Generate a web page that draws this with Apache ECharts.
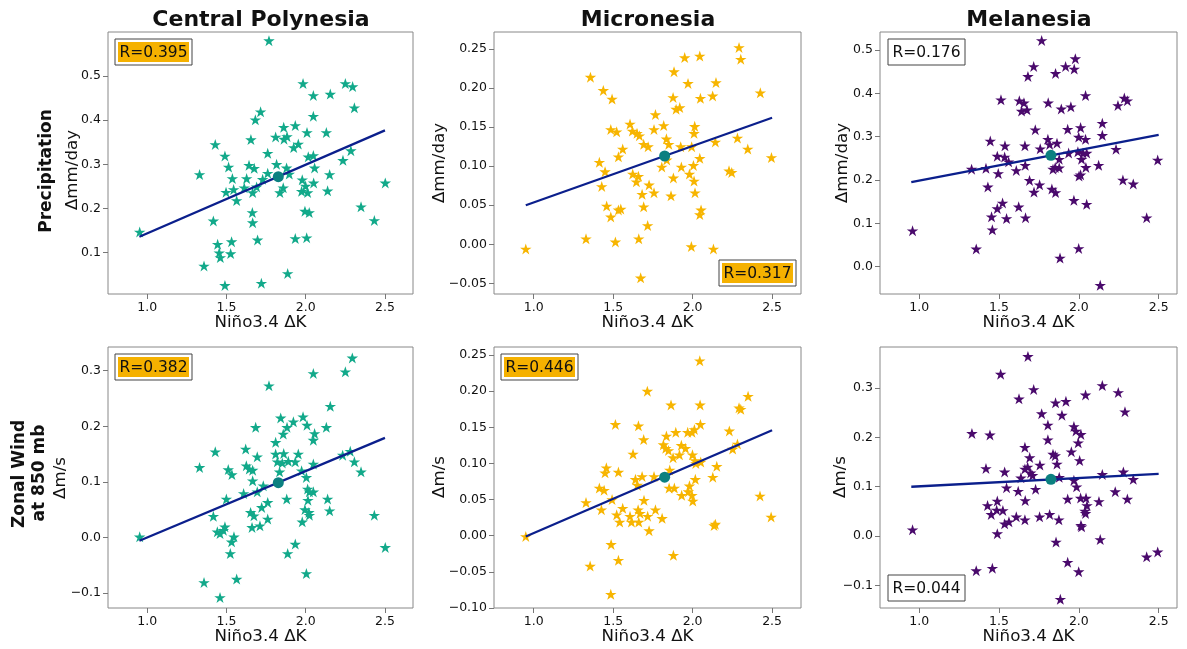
<!DOCTYPE html>
<html>
<head>
<meta charset="utf-8">
<script src="https://cdn.jsdelivr.net/npm/echarts@6/dist/echarts.min.js"></script>
<style>html,body{margin:0;padding:0;background:#fff}#c{width:1187px;height:649px}</style>
</head>
<body>
<div id="c"></div>
<script>
// ---------------- DATA ----------------
const colTitles = ['Central Polynesia', 'Micronesia', 'Melanesia'];
const rowLabels = [['Precipitation'], ['Zonal Wind', 'at 850 mb']];
const yUnits = ['\u0394mm/day', '\u0394m/s'];
const xName = 'Ni\u00f1o3.4 \u0394K';
const xTicks = [1.0, 1.5, 2.0, 2.5];

const cpPrecip = [[1.768,0.580],[1.983,0.483],[2.250,0.483],[2.296,0.476],[2.048,0.456],[2.155,0.459],[2.307,0.428],[1.715,0.419],[1.682,0.401],[2.048,0.409],[1.861,0.384],[1.934,0.388],[2.008,0.372],[2.130,0.372],[1.810,0.362],[1.882,0.363],[1.863,0.357],[1.654,0.356],[1.429,0.345],[1.953,0.346],[1.924,0.338],[1.760,0.325],[1.490,0.319],[2.016,0.317],[2.048,0.320],[2.285,0.331],[2.235,0.309],[1.513,0.294],[1.642,0.298],[1.675,0.291],[1.816,0.300],[1.879,0.292],[2.056,0.292],[1.330,0.277],[1.760,0.280],[1.896,0.278],[2.151,0.277],[1.537,0.268],[1.627,0.268],[1.728,0.266],[1.978,0.265],[1.999,0.251],[2.050,0.258],[1.858,0.247],[1.690,0.249],[1.612,0.247],[1.545,0.243],[1.497,0.237],[1.665,0.236],[1.837,0.236],[1.974,0.239],[2.012,0.236],[2.138,0.240],[1.564,0.218],[2.502,0.258],[2.349,0.204],[1.663,0.191],[1.995,0.194],[2.022,0.191],[1.417,0.172],[1.665,0.168],[2.433,0.173],[0.952,0.147],[1.696,0.129],[1.934,0.132],[2.006,0.134],[1.444,0.119],[1.532,0.125],[1.454,0.100],[1.526,0.098],[1.461,0.089],[1.358,0.070],[1.886,0.053],[1.490,0.026],[1.720,0.031]];

const miPrecip = [[2.292,0.252],[2.303,0.237],[1.950,0.239],[2.045,0.241],[1.883,0.221],[1.357,0.214],[1.971,0.206],[2.147,0.207],[1.438,0.197],[1.493,0.186],[1.877,0.188],[2.049,0.187],[2.126,0.190],[2.426,0.194],[1.896,0.173],[1.919,0.175],[1.766,0.166],[1.606,0.154],[1.818,0.152],[1.757,0.147],[2.013,0.151],[1.485,0.147],[1.522,0.144],[1.621,0.145],[1.650,0.142],[1.665,0.139],[2.009,0.142],[1.835,0.135],[2.282,0.136],[1.692,0.128],[1.720,0.125],[1.850,0.128],[2.143,0.131],[1.925,0.125],[1.994,0.125],[1.560,0.122],[2.347,0.122],[1.533,0.112],[1.837,0.108],[1.806,0.099],[2.045,0.110],[2.496,0.111],[1.413,0.105],[1.449,0.093],[1.929,0.099],[2.005,0.101],[1.623,0.090],[1.659,0.087],[1.646,0.080],[1.879,0.085],[1.980,0.090],[2.009,0.081],[2.229,0.094],[2.246,0.092],[1.428,0.074],[1.726,0.076],[1.757,0.066],[1.682,0.064],[1.864,0.062],[2.015,0.066],[1.692,0.048],[1.459,0.049],[1.533,0.044],[1.548,0.045],[1.485,0.035],[2.053,0.044],[2.045,0.038],[1.717,0.024],[1.329,0.007],[1.661,0.007],[1.514,0.003],[1.992,-0.003],[2.131,-0.006],[0.950,-0.006],[1.673,-0.043]];

const mePrecip = [[1.767,0.522],[1.978,0.480],[1.717,0.462],[1.917,0.462],[1.971,0.456],[1.681,0.439],[1.854,0.446],[2.042,0.395],[1.512,0.385],[1.627,0.383],[1.656,0.378],[1.808,0.378],[2.285,0.389],[2.304,0.383],[2.245,0.372],[1.950,0.369],[1.890,0.364],[1.641,0.359],[1.675,0.362],[2.147,0.331],[1.727,0.316],[1.930,0.317],[2.011,0.321],[2.147,0.303],[1.999,0.299],[2.042,0.294],[1.806,0.294],[1.445,0.290],[1.537,0.279],[1.662,0.279],[1.863,0.285],[1.817,0.282],[1.758,0.272],[2.233,0.271],[1.936,0.262],[1.994,0.265],[2.026,0.262],[2.049,0.262],[1.489,0.255],[1.535,0.253],[1.560,0.242],[2.017,0.248],[1.877,0.248],[2.494,0.246],[1.328,0.225],[1.418,0.227],[1.664,0.234],[1.608,0.222],[1.838,0.225],[1.852,0.229],[1.877,0.228],[2.044,0.229],[2.124,0.234],[1.495,0.215],[2.001,0.209],[2.011,0.212],[1.691,0.199],[1.754,0.189],[2.276,0.200],[2.341,0.191],[1.430,0.184],[1.719,0.172],[1.831,0.179],[1.854,0.171],[1.969,0.153],[2.049,0.144],[1.522,0.147],[1.489,0.134],[1.623,0.138],[1.453,0.115],[1.547,0.111],[1.666,0.113],[2.425,0.113],[1.458,0.085],[0.958,0.083],[1.357,0.041],[1.999,0.042],[1.882,0.020],[2.134,-0.043]];

const cpWind = [[2.294,0.323],[2.048,0.295],[2.250,0.298],[1.768,0.273],[2.155,0.236],[1.842,0.215],[1.983,0.217],[1.922,0.208],[2.008,0.202],[1.882,0.198],[1.684,0.198],[2.130,0.198],[1.858,0.186],[2.056,0.187],[2.048,0.175],[1.810,0.171],[1.429,0.154],[1.621,0.159],[1.810,0.150],[1.861,0.151],[1.953,0.150],[1.694,0.145],[1.821,0.136],[1.852,0.134],[1.890,0.137],[1.934,0.136],[2.233,0.148],[2.281,0.155],[2.307,0.136],[2.048,0.132],[1.330,0.126],[1.511,0.122],[1.534,0.113],[1.625,0.129],[1.644,0.123],[1.665,0.121],[1.835,0.118],[1.974,0.120],[2.349,0.118],[2.004,0.108],[1.665,0.102],[1.732,0.093],[1.608,0.079],[1.694,0.082],[2.012,0.087],[2.048,0.082],[2.023,0.082],[1.499,0.069],[1.880,0.069],[2.014,0.067],[2.138,0.069],[1.760,0.063],[1.722,0.054],[1.652,0.045],[1.673,0.039],[1.995,0.050],[2.020,0.045],[2.023,0.040],[2.151,0.048],[2.433,0.040],[1.417,0.038],[1.760,0.033],[1.711,0.021],[1.661,0.018],[1.978,0.028],[1.490,0.019],[1.480,0.013],[1.442,0.010],[1.459,0.007],[1.547,0.001],[1.532,-0.008],[1.934,-0.012],[1.886,-0.029],[1.524,-0.029],[0.952,0.001],[2.502,-0.018],[2.004,-0.065],[1.564,-0.075],[1.358,-0.081],[1.459,-0.108]];

const miWind = [[2.045,0.242],[1.715,0.200],[2.349,0.193],[1.864,0.181],[2.047,0.181],[2.292,0.177],[2.303,0.175],[1.514,0.154],[1.659,0.152],[2.049,0.154],[1.894,0.143],[1.969,0.143],[1.996,0.143],[2.011,0.147],[2.231,0.145],[1.835,0.138],[1.692,0.133],[1.816,0.126],[1.831,0.121],[1.929,0.125],[1.955,0.121],[1.848,0.118],[1.917,0.112],[2.282,0.127],[2.252,0.120],[1.625,0.113],[1.877,0.108],[1.999,0.112],[2.015,0.104],[2.051,0.102],[2.020,0.100],[2.152,0.096],[1.457,0.094],[1.449,0.087],[1.533,0.088],[1.856,0.091],[1.640,0.078],[1.682,0.082],[1.757,0.082],[2.127,0.081],[2.017,0.078],[1.652,0.070],[1.852,0.066],[1.885,0.066],[1.980,0.069],[1.973,0.061],[1.931,0.056],[1.996,0.056],[2.001,0.048],[1.413,0.066],[1.443,0.063],[1.493,0.050],[1.329,0.046],[1.694,0.049],[2.424,0.055],[1.426,0.036],[1.560,0.038],[1.657,0.036],[1.766,0.036],[1.522,0.029],[1.606,0.027],[1.669,0.031],[1.717,0.027],[1.808,0.024],[1.541,0.019],[1.615,0.019],[1.661,0.019],[2.494,0.026],[2.135,0.014],[2.143,0.016],[1.726,0.007],[0.950,-0.001],[1.487,-0.012],[1.879,-0.027],[1.533,-0.034],[1.355,-0.042],[1.485,-0.081]];

const meWind = [[1.681,0.364],[1.510,0.328],[1.717,0.297],[2.147,0.305],[2.247,0.291],[2.042,0.286],[1.625,0.278],[1.854,0.270],[1.919,0.273],[2.289,0.252],[1.767,0.248],[1.894,0.245],[1.806,0.225],[1.969,0.222],[1.982,0.213],[2.013,0.206],[1.330,0.208],[1.443,0.205],[1.806,0.195],[1.996,0.189],[1.662,0.180],[1.953,0.171],[1.838,0.166],[1.852,0.163],[1.692,0.159],[2.005,0.153],[1.863,0.146],[1.756,0.144],[1.418,0.137],[1.662,0.136],[1.679,0.140],[1.535,0.130],[1.698,0.128],[1.710,0.123],[1.637,0.118],[1.877,0.119],[1.969,0.113],[2.147,0.125],[2.279,0.130],[2.341,0.115],[1.986,0.100],[1.547,0.098],[1.620,0.091],[1.729,0.095],[2.228,0.090],[1.664,0.072],[1.930,0.075],[2.011,0.077],[2.045,0.077],[2.126,0.070],[2.304,0.075],[1.489,0.071],[1.428,0.062],[2.051,0.062],[1.485,0.053],[1.524,0.052],[1.451,0.044],[2.038,0.051],[2.042,0.046],[1.608,0.039],[1.662,0.033],[1.754,0.039],[1.817,0.044],[1.875,0.033],[1.562,0.029],[1.535,0.025],[2.013,0.022],[2.017,0.019],[1.489,0.005],[1.857,-0.012],[2.134,-0.007],[0.958,0.013],[2.425,-0.042],[2.494,-0.032],[1.930,-0.053],[1.458,-0.065],[1.357,-0.070],[1.999,-0.072],[1.884,-0.128]];

const fitX = [0.95, 2.50];
const fitY = [[0.136,0.377],[0.050,0.162],[0.195,0.304],[-0.006,0.179],[-0.001,0.146],[0.100,0.126]];
const means = [[1.827,0.272],[1.824,0.113],[1.825,0.257],[1.827,0.0985],[1.824,0.081],[1.825,0.115]];
const rLabels = ['R=0.395','R=0.317','R=0.176','R=0.382','R=0.446','R=0.044'];
const rHighlight = [true, true, false, true, true, false];

const yTicks = [[0.1,0.2,0.3,0.4,0.5],[-0.05,0,0.05,0.1,0.15,0.2,0.25],[0,0.1,0.2,0.3,0.4,0.5],[-0.1,0,0.1,0.2,0.3],[-0.1,-0.05,0,0.05,0.1,0.15,0.2,0.25],[-0.1,0,0.1,0.2,0.3]];
const yDecimals = [1,2,1,1,2,1];

// ---------------- LAYOUT / STYLE ----------------
const panels = [cpPrecip, miPrecip, mePrecip, cpWind, miWind, meWind];
const starColors = ['#12a98a', '#f7b500', '#4a0a6c'];
const grids = [
  {left:108, top:32, width:305, height:262},
  {left:494, top:32, width:307, height:262},
  {left:880, top:32, width:297, height:262},
  {left:108, top:347, width:305, height:261},
  {left:494, top:347, width:307, height:261},
  {left:880, top:347, width:297, height:261}
];
const xRanges = [[0.752,2.677],[0.750,2.682],[0.754,2.615]];
const yRanges = [[0.0065,0.5996],[-0.0637,0.2718],[-0.0631,0.5415],[-0.127,0.3426],[-0.100,0.2611],[-0.1456,0.383]];
const yUnitPos = [[73,170],[440,163],[843,163],[61,478],[440,477],[841,477]];
const rBoxPos = [[115,39],[719,260],[888,39],[115,354],[501,354],[888,575]];

const FONT = '"DejaVu Sans", sans-serif';
const STAR = 'path://M50 0 L61.23 34.55 L97.55 34.55 L68.17 55.9 L79.39 90.45 L50 69.1 L20.61 90.45 L31.83 55.9 L2.45 34.55 L38.77 34.55 Z';
const fmt = (v, d) => { let s = Math.abs(v) < 1e-9 ? (0).toFixed(d) : v.toFixed(d); return s.replace('-', '\u2212'); };
const txt = (x, y, text, font, rot) => ({type:'text', x:x, y:y, rotation:rot || 0,
  style:{text:text, font:font, fill:'#111', textAlign:'center', textVerticalAlign:'middle', align:'center', verticalAlign:'middle'}, z:12});

const xAxes = [], yAxes = [], series = [], graphics = [];
for (let i = 0; i < 6; i++) {
  const col = i % 3, row = Math.floor(i / 3);
  xAxes.push({
    type:'value', gridIndex:i, position:'bottom', min:xRanges[col][0], max:xRanges[col][1],
    axisLine:{show:false, onZero:false},
    axisTick:{show:true, customValues:xTicks, length:5, lineStyle:{color:'#777'}},
    axisLabel:{customValues:xTicks, formatter:v => fmt(v,1), fontSize:12.5, color:'#111', margin:7, fontFamily:FONT},
    splitLine:{show:false},
    name:xName, nameLocation:'middle', nameGap:20, nameMoveOverlap:false,
    nameTextStyle:{fontSize:16.7, color:'#111', fontFamily:FONT}
  });
  yAxes.push({
    type:'value', gridIndex:i, position:'left', min:yRanges[i][0], max:yRanges[i][1],
    axisLine:{show:false, onZero:false},
    axisTick:{show:true, customValues:yTicks[i], length:5, lineStyle:{color:'#777'}},
    axisLabel:{customValues:yTicks[i], formatter:v => fmt(v,yDecimals[i]), fontSize:12.5, color:'#111', margin:7, fontFamily:FONT},
    splitLine:{show:false}
  });
  series.push({
    type:'scatter', xAxisIndex:i, yAxisIndex:i, data:panels[i],
    symbol:STAR, symbolSize:[11.5,11], itemStyle:{color:starColors[col], opacity:1},
    z:2, silent:true
  });
  series.push({
    type:'line', xAxisIndex:i, yAxisIndex:i,
    data:fitX.map((x,k) => [x, fitY[i][k]]),
    symbol:'none', lineStyle:{color:'#0b1f8c', width:2.3}, z:3, silent:true
  });
  series.push({
    type:'scatter', xAxisIndex:i, yAxisIndex:i, data:[means[i]],
    symbol:'circle', symbolSize:11, itemStyle:{color:'#0b8080', opacity:1}, z:4, silent:true
  });
  // y-axis unit label
  graphics.push(txt(yUnitPos[i][0], yUnitPos[i][1], yUnits[row], '16.7px ' + FONT, Math.PI/2));
  // R boxes
  const [bx, by] = rBoxPos[i];
  graphics.push({type:'rect', shape:{x:bx, y:by, width:77, height:26}, style:{fill:'#fff', stroke:'#444', lineWidth:1}, z:10});
  if (rHighlight[i]) {
    graphics.push({type:'rect', shape:{x:bx+3, y:by+3, width:71, height:20}, style:{fill:'#f5b100'}, z:11});
  }
  graphics.push(txt(bx+38.5, by+13.5, rLabels[i], '15.5px ' + FONT, 0));
}
const colCenters = [261, 648, 1029];
colTitles.forEach((t, c) => graphics.push(txt(colCenters[c], 20, t, 'bold 22px ' + FONT, 0)));
const rowLabelPos = [[[47,171]], [[20,474],[40,473]]];
rowLabels.forEach((lines, r) => {
  lines.forEach((t, k) => {
    const [lx, ly] = rowLabelPos[r][k];
    graphics.push(txt(lx, ly, t, 'bold 17px ' + FONT, Math.PI/2));
  });
});

const chart = echarts.init(document.getElementById('c'), null, {renderer:'canvas'});
chart.setOption({
  animation:false,
  backgroundColor:'#fff',
  textStyle:{fontFamily:FONT},
  grid:grids.map(g => Object.assign({show:true, borderColor:'#888', borderWidth:1, backgroundColor:'transparent', containLabel:false}, g)),
  xAxis:xAxes, yAxis:yAxes, series:series, graphic:graphics
});
</script>
</body>
</html>
